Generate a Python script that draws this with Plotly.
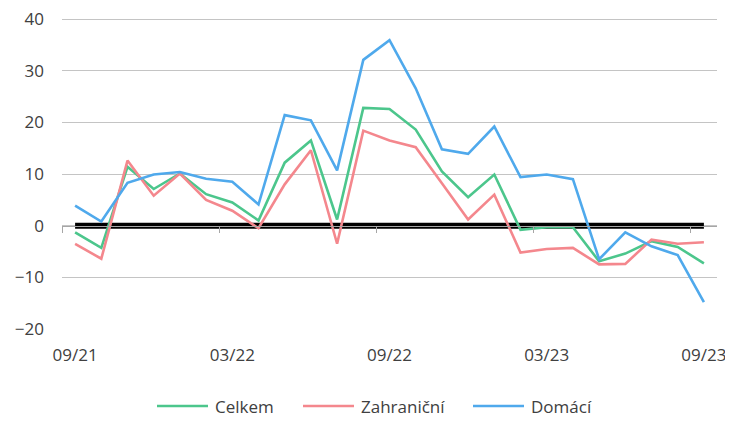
import plotly.graph_objects as go

months = ["09/21","10/21","11/21","12/21","01/22","02/22","03/22","04/22","05/22","06/22","07/22","08/22",
          "09/22","10/22","11/22","12/22","01/23","02/23","03/23","04/23","05/23","06/23","07/23","08/23","09/23"]
celkem = [-1.3, -4.3, 11.4, 7.1, 10.1, 6.1, 4.5, 1.0, 12.2, 16.5, 1.2, 22.8, 22.6, 18.6, 10.5, 5.5, 9.9,
          -0.8, -0.3, -0.3, -6.9, -5.4, -3.0, -4.1, -7.3]
zahranicni = [-3.5, -6.4, 12.6, 5.8, 10.1, 5.0, 2.9, -0.5, 8.0, 14.6, -3.5, 18.4, 16.5, 15.2, 8.2, 1.2, 6.0,
              -5.2, -4.5, -4.3, -7.5, -7.4, -2.7, -3.5, -3.2]
domaci = [3.9, 0.8, 8.3, 9.9, 10.4, 9.1, 8.5, 4.1, 21.4, 20.4, 10.7, 32.1, 35.9, 26.6, 14.8, 13.9, 19.2,
          9.4, 9.9, 9.0, -6.5, -1.3, -4.0, -5.7, -14.8]
zero = [0] * len(months)
tick_labels = ["09/21", "03/22", "09/22", "03/23", "09/23"]
y_ticks = [-20, -10, 0, 10, 20, 30, 40]
series_names = ["Celkem", "Zahraniční", "Domácí"]
series_colors = ["#4CC68C", "#F4878D", "#4FA9EC"]

x = list(range(len(months)))
label_pos = [months.index(t) for t in tick_labels]
tick_pos = [p - 0.5 for p in label_pos]

# figure geometry (page body adds an 8px offset)
W, H = 725, 413
L, R, T, B = 54, 16, 10, 92
pw, ph = W - L - R, H - T - B

font = "'Open Sans', sans-serif"
txt = "#404040"
fig = go.Figure()
fig.add_trace(go.Scatter(x=[x[0]], y=[0], xaxis="x2", mode="markers", marker=dict(opacity=0),
                         showlegend=False, hoverinfo="skip"))
fig.add_trace(go.Scatter(x=x, y=zero, mode="lines", line=dict(color="#000000", width=6),
                         showlegend=False, hoverinfo="skip"))
for name, vals, col in zip(series_names, [celkem, zahranicni, domaci], series_colors):
    fig.add_trace(go.Scatter(x=x, y=vals, name=name, mode="lines",
                             line=dict(color=col, width=2.6), showlegend=False))

# manual legend (Excel style: long line sample, text to the right)
leg_line_x = [149, 295, 465]   # figure px, left end of the sample line
leg_len = 51
leg_y = (H - B - 398) / ph
for name, col, lx in zip(series_names, series_colors, leg_line_x):
    x0 = (lx - L) / pw
    x1 = (lx + leg_len - L) / pw
    fig.add_shape(type="line", xref="paper", yref="paper", x0=x0, x1=x1, y0=leg_y, y1=leg_y,
                  line=dict(color=col, width=2.6))
    fig.add_annotation(xref="paper", yref="paper", x=(lx + leg_len + 5 - L) / pw, y=leg_y,
                       text=name, showarrow=False, xanchor="left", yanchor="middle",
                       font=dict(family=font, size=17, color=txt))

y_top = y_ticks[-1] + 0.2
zero_frac = (0 - y_ticks[0]) / (y_top - y_ticks[0])

fig.update_layout(
    width=W, height=H,
    margin=dict(l=L, r=R, t=T, b=B, autoexpand=False),
    paper_bgcolor="white", plot_bgcolor="white",
    font=dict(family=font, size=17, color=txt),
    showlegend=False,
    xaxis=dict(range=[-0.5, len(months) - 0.5], tickvals=label_pos, ticktext=tick_labels,
               showgrid=False, zeroline=False, showline=False, ticks="", automargin=False,
               ticklabelstandoff=14, tickfont=dict(family=font, size=17, color=txt)),
    xaxis2=dict(range=[-0.5, len(months) - 0.5], overlaying="x", anchor="free", position=zero_frac,
                side="bottom", tickvals=tick_pos, showticklabels=False, ticks="outside",
                ticklen=6, tickcolor="#a6a6a6", showline=True, linecolor="#a6a6a6", linewidth=1,
                showgrid=False, zeroline=False, automargin=False),
    yaxis=dict(range=[y_ticks[0], y_top], tickvals=y_ticks, showgrid=True, gridcolor="#c4c4c4",
               gridwidth=1, zeroline=False, showline=False, ticks="", ticklabelstandoff=17,
               automargin=False, ticklabeloverflow="allow",
               tickfont=dict(family=font, size=17, color=txt)),
)
fig.write_html("out.html")
